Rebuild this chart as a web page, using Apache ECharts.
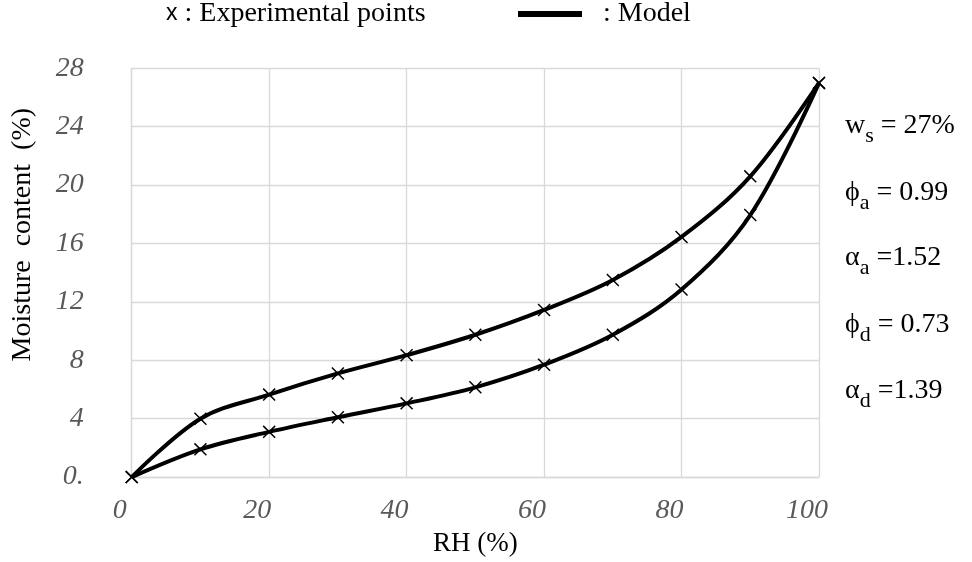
<!DOCTYPE html>
<html>
<head>
<meta charset="utf-8">
<script src="https://cdn.jsdelivr.net/npm/echarts@6/dist/echarts.min.js"></script>
<style>
  html, body { margin: 0; padding: 0; background: #fff; }
  #container { width: 972px; height: 562px; }
</style>
</head>
<body>
<div id="container"></div>
<script>
var dom = document.getElementById("container");
var myChart = echarts.init(dom);
var option = null;

// relative humidity of the measured points (%)
var rhPoints = [0, 10, 20, 30, 40, 50, 60, 70, 80, 90, 100];
// upper branch (desorption) and lower branch (adsorption), moisture content %
var desorption = [0, 4.0, 5.65, 7.1, 8.35, 9.75, 11.45, 13.5, 16.45, 20.6, 27];
var adsorption = [0, 1.9, 3.1, 4.1, 5.05, 6.15, 7.7, 9.75, 12.85, 17.95, 27];

// fitted model parameters shown on the right
var paramSymbols = ['w', '\u03D5', '\u03B1', '\u03D5', '\u03B1'];
var paramSubs = ['s', 'a', 'a', 'd', 'd'];
var paramValues = ['= 27%', '= 0.99', '=1.52', '= 0.73', '=1.39'];
var paramY = [126, 193, 258, 325, 391];

var serif = 'Liberation Serif, Times New Roman, serif';
var crossSymbol = 'path://M0,0.8L0.8,0L10,9.2L9.2,10ZM9.2,0L10,0.8L0.8,10L0,9.2Z';

function pairs(xs, ys) {
	var out = [];
	for (var i = 0; i < xs.length; i++) {
		out.push([xs[i], ys[i]]);
	}
	return out;
}

var graphics = [];
// legend row
graphics.push({
	type: 'text', left: 166, top: 0,
	style: {
		text: '{m|x} : Experimental points',
		font: '28px ' + serif,
		fill: '#000',
		rich: { m: { fontFamily: 'Liberation Sans, Arial, sans-serif', fontSize: 23, fill: '#000' } }
	}
});
graphics.push({ type: 'rect', shape: { x: 518, y: 11, width: 64, height: 6 }, style: { fill: '#000' } });
graphics.push({
	type: 'text', left: 603, top: 0,
	style: { text: ': Model', font: '28px ' + serif, fill: '#000' }
});
// parameter block
for (var i = 0; i < paramSymbols.length; i++) {
	graphics.push({
		type: 'text', x: 845, y: paramY[i],
		style: {
			text: '{b|' + paramSymbols[i] + '}{s|' + paramSubs[i] + '}{b| ' + paramValues[i] + '}',
			verticalAlign: 'middle',
			fill: '#000',
			rich: {
				b: { fontFamily: serif, fontSize: 28, lineHeight: 28, verticalAlign: 'middle', fill: '#000' },
				s: { fontFamily: serif, fontSize: 22, lineHeight: 42, verticalAlign: 'bottom', fill: '#000' }
			}
		}
	});
}

option = {
	animation: false,
	backgroundColor: '#fff',
	grid: {
		left: 131.7,
		right: 153,
		top: 68.3,
		bottom: 83,
		containLabel: false
	},
	xAxis: {
		type: 'value',
		min: 0,
		max: 100,
		interval: 20,
		name: 'RH (%)',
		nameLocation: 'middle',
		nameGap: 50,
		nameTextStyle: { fontFamily: serif, fontSize: 27, color: '#000' },
		axisLine: { lineStyle: { color: '#d9d9d9', width: 1.3 } },
		axisTick: { show: false },
		splitLine: { show: true, lineStyle: { color: '#d9d9d9', width: 1.3 } },
		axisLabel: {
			fontFamily: serif,
			fontStyle: 'italic',
			fontSize: 28,
			color: '#595959',
			margin: 20,
			padding: [0, 24, 0, 0]
		}
	},
	yAxis: {
		type: 'value',
		min: 0,
		max: 28,
		interval: 4,
		name: 'Moisture  content  (%)',
		nameLocation: 'middle',
		nameRotate: 90,
		nameGap: 95,
		nameTextStyle: { fontFamily: serif, fontSize: 28, color: '#000', padding: [0, 0, 0, 76] },
		axisLine: { show: true, lineStyle: { color: '#d9d9d9', width: 1.3 } },
		axisTick: { show: false },
		splitLine: { show: true, lineStyle: { color: '#d9d9d9', width: 1.3 } },
		axisLabel: {
			fontFamily: serif,
			fontStyle: 'italic',
			fontSize: 28,
			color: '#595959',
			margin: 48,
			formatter: function (v) { return v === 0 ? '0.' : String(v); }
		}
	},
	graphic: graphics,
	series: [{
		name: 'Desorption',
		type: 'line',
		smooth: 0.35,
		data: pairs(rhPoints, desorption),
		symbol: crossSymbol,
		symbolSize: 13,
		showAllSymbol: true,
		lineStyle: { color: '#000', width: 4 },
		itemStyle: { color: '#000' },
		z: 3
	}, {
		name: 'Adsorption',
		type: 'line',
		smooth: 0.35,
		data: pairs(rhPoints, adsorption),
		symbol: crossSymbol,
		symbolSize: 13,
		showAllSymbol: true,
		lineStyle: { color: '#000', width: 4 },
		itemStyle: { color: '#000' },
		z: 3
	}]
};

if (option && typeof option === "object") {
	myChart.setOption(option, true);
}
</script>
</body>
</html>
